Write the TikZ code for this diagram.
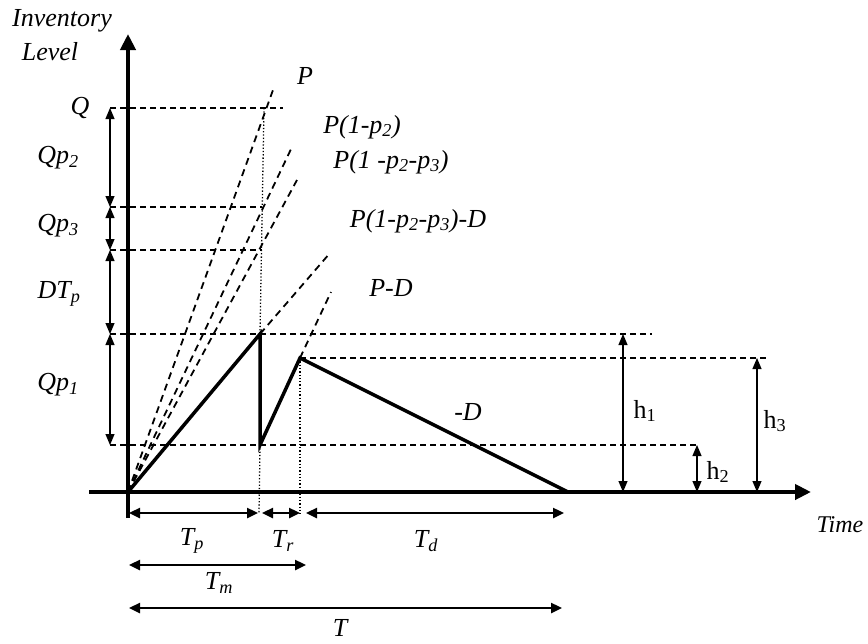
\documentclass[tikz,border=0pt]{standalone}
\usepackage{fontspec}
\setmainfont{Liberation Serif}
\usetikzlibrary{arrows.meta}
\tikzset{
  lab/.style={font=\fontsize{26}{28}\selectfont\itshape, inner sep=0pt},
  labup/.style={font=\fontsize{26}{28}\selectfont, inner sep=0pt},
  axis/.style={line width=4pt, -{Triangle[length=16pt,width=15pt]}},
  saw/.style={line width=3.5pt, line join=miter},
  guide/.style={line width=1.3pt, dash pattern=on 6pt off 4pt},
  fan/.style={line width=1.8pt, dash pattern=on 7pt off 5pt},
  dotl/.style={line width=1.3pt, dash pattern=on 1.3pt off 2pt},
  dim/.style={line width=1.1pt, {Triangle[length=11pt,width=9pt]}-{Triangle[length=11pt,width=9pt]}},
  tdim/.style={line width=2.4pt, {Triangle[length=11pt,width=10pt]}-{Triangle[length=11pt,width=10pt]}}
}
\begin{document}
\begin{tikzpicture}[x=1pt,y=-1pt]
\useasboundingbox (0,0) rectangle (868,643);
% key points
\coordinate (O) at (128,492);
\coordinate (peak) at (260,334);
\coordinate (drop) at (260,445);
\coordinate (top2) at (300,358);
\coordinate (end) at (568,492);
\coordinate (vb) at (128,518);
\coordinate (vt) at (128,34);
\coordinate (hl) at (89,492);
\coordinate (hr) at (811,492);
% guide lines
\coordinate (gQa) at (110,108); \coordinate (gQb) at (283,108);
\coordinate (g2a) at (110,207); \coordinate (g2b) at (262,207);
\coordinate (g3a) at (110,250); \coordinate (g3b) at (262,250);
\coordinate (g4a) at (110,334); \coordinate (g4b) at (652,334);
\coordinate (g5a) at (110,445); \coordinate (g5b) at (697,445);
\coordinate (g6a) at (300,358); \coordinate (g6b) at (768,358);
\draw[guide] (gQa) -- (gQb);
\draw[guide] (g2a) -- (g2b);
\draw[guide] (g3a) -- (g3b);
\draw[guide] (g4a) -- (g4b);
\draw[guide] (g5a) -- (g5b);
\draw[guide] (g6a) -- (g6b);
% fan lines
\coordinate (fP) at (273,90);
\coordinate (fP2) at (292,147);
\coordinate (fP3) at (297,180);
\coordinate (fPD3) at (330,253);
\coordinate (fPD) at (331,292);
\draw[fan] (O) -- (fP);
\draw[fan] (O) -- (fP2);
\draw[fan] (O) -- (fP3);
\draw[fan] (peak) -- (fPD3);
\draw[fan] (top2) -- (fPD);
% dotted verticals
\coordinate (d1) at (264,108);
\coordinate (d1b) at (259,514);
\coordinate (d2b) at (300,514);
\draw[dotl] (d1) -- (peak);
\draw[dotl] (drop) -- (d1b);
\draw[dotl] (top2) -- (d2b);
% axes
\draw[axis] (vb) -- (vt);
\draw[axis] (hl) -- (hr);
% inventory path
\draw[saw] (O) -- (peak) -- (drop) -- (top2) -- (end);
% left dimension arrows
\draw[dim] (110,108) -- (110,207);
\draw[dim] (110,207) -- (110,250);
\draw[dim] (110,250) -- (110,334);
\draw[dim] (110,334) -- (110,445);
% right dimension arrows
\draw[dim] (623,334) -- (623,492);
\draw[dim] (697,445) -- (697,492);
\draw[dim] (757,358) -- (757,492);
% time dimension arrows
\draw[tdim] (129,513) -- (258,513);
\draw[tdim] (262,513) -- (300,513);
\draw[tdim] (306,513) -- (564,513);
\draw[tdim] (129,565) -- (306,565);
\draw[tdim] (129,608) -- (562,608);
% labels
\node[lab] (lInv) at (62,21) {Inventory};
\node[lab] (lLev) at (50,52) {Level};
\node[lab] (lQ) at (80,108) {Q};
\node[lab] (lQp2) at (58,158) {Qp\textsubscript{2}};
\node[lab] (lQp3) at (58,226) {Qp\textsubscript{3}};
\node[lab] (lDTp) at (59,294) {DT\textsubscript{p}};
\node[lab] (lQp1) at (58,385) {Qp\textsubscript{1}};
\node[lab] (lP) at (305,76) {P};
\node[lab] (lP2) at (362,127) {P(1-p\textsubscript{2})};
\node[lab] (lP3) at (391,162) {P(1 -p\textsubscript{2}-p\textsubscript{3})};
\node[lab] (lPD3) at (418,221) {P(1-p\textsubscript{2}-p\textsubscript{3})-D};
\node[lab] (lPD) at (391,288) {P-D};
\node[lab] (lD) at (468,412) {-D};
\node[lab, font=\fontsize{24}{26}\selectfont\itshape] (lTime) at (840,525) {Time};
\node[labup] (lh1) at (645,411) {h\textsubscript{1}};
\node[labup] (lh2) at (718,472) {h\textsubscript{2}};
\node[labup] (lh3) at (775,421) {h\textsubscript{3}};
\node[lab] (lTp) at (192,541) {T\textsubscript{p}};
\node[lab] (lTr) at (283,541) {T\textsubscript{r}};
\node[lab] (lTd) at (426,541) {T\textsubscript{d}};
\node[lab] (lTm) at (219,583) {T\textsubscript{m}};
\node[lab] (lT) at (340,628) {T};
\end{tikzpicture}
\end{document}
